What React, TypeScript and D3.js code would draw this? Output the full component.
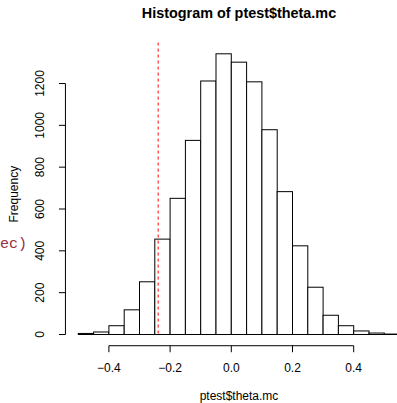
import React from "react";
import * as d3 from "d3";

// Histogram breaks (width 0.05) and counts per bin
const binStarts = [
  -0.5, -0.45, -0.4, -0.35, -0.3, -0.25, -0.2, -0.15, -0.1, -0.05, 0.0,
  0.05, 0.1, 0.15, 0.2, 0.25, 0.3, 0.35, 0.4, 0.45, 0.5,
];
const counts = [
  5, 12, 42, 118, 252, 456, 651, 928, 1212, 1342, 1302, 1208, 979, 683, 424,
  226, 92, 42, 17, 7, 2,
];
const binWidth = 0.05;
const xTicks = [-0.4, -0.2, 0.0, 0.2, 0.4];
const yTicks = [0, 200, 400, 600, 800, 1000, 1200];
const refValue = -0.239;

const W = 397;
const H = 403;
const FONT = "'Liberation Sans', Arial, Helvetica, sans-serif";

export default function App() {
  // plot region in pixels (extends past right edge of the view)
  const x = d3.scaleLinear().domain([0, 0.2]).range([231.3, 292.5]);
  const y = d3.scaleLinear().domain([0, 1200]).range([334.5, 83.5]);
  const yMax = d3.max(counts) as number;
  const plotTop = y(yMax * 1.04);
  const plotBottom = y(-yMax * 0.04);
  const plotLeft = x(-0.5 - 0.05 * 0.04 * 21);
  const fmt = (v: number) => (v === 0 ? "0.0" : d3.format(".1f")(v).replace("-", "\u2212"));

  return (
    <svg width={W} height={H} style={{ position: "absolute", left: 0, top: 0, background: "#fff" }}>
      <rect x={0} y={0} width={W} height={H} fill="#fff" />
      <text x={239} y={18} textAnchor="middle" fontFamily={FONT} fontWeight="bold" fontSize={14.4}>
        Histogram of ptest$theta.mc
      </text>

      {/* bars */}
      {counts.map((c, i) => (
        <rect
          key={i}
          x={x(binStarts[i])}
          y={y(c)}
          width={x(binStarts[i] + binWidth) - x(binStarts[i])}
          height={y(0) - y(c)}
          fill="#fff"
          stroke="#000"
          strokeWidth={1}
        />
      ))}

      {/* reference line */}
      <line
        x1={x(refValue)}
        x2={x(refValue)}
        y1={plotTop}
        y2={y(0)}
        stroke="#ff0000"
        strokeWidth={1}
        strokeDasharray="3,3"
      />

      {/* x axis */}
      <line x1={x(xTicks[0])} x2={x(xTicks[xTicks.length - 1])} y1={plotBottom} y2={plotBottom} stroke="#000" />
      {xTicks.map((t) => (
        <g key={t}>
          <line x1={x(t)} x2={x(t)} y1={plotBottom} y2={plotBottom + 6.5} stroke="#000" />
          <text x={x(t)} y={372} textAnchor="middle" fontFamily={FONT} fontSize={12}>
            {fmt(t)}
          </text>
        </g>
      ))}
      <text x={239} y={400} textAnchor="middle" fontFamily={FONT} fontSize={12}>
        ptest$theta.mc
      </text>

      {/* y axis */}
      <line x1={plotLeft} x2={plotLeft} y1={y(yTicks[0])} y2={y(yTicks[yTicks.length - 1])} stroke="#000" />
      {yTicks.map((t) => (
        <g key={t}>
          <line x1={plotLeft} x2={plotLeft - 6.5} y1={y(t)} y2={y(t)} stroke="#000" />
          <text
            transform={`translate(${plotLeft - 21.5},${y(t)}) rotate(-90)`}
            textAnchor="middle"
            fontFamily={FONT}
            fontSize={12}
          >
            {t}
          </text>
        </g>
      ))}
      <text
        transform={`translate(${18},${(plotTop + plotBottom) / 2}) rotate(-90)`}
        textAnchor="middle"
        fontFamily={FONT}
        fontSize={12}
      >
        Frequency
      </text>

      <text x={0} y={248} fontFamily="'Liberation Mono', 'DejaVu Sans Mono', monospace" fontSize={15} fill="#9a2f45">
        ec)
      </text>
    </svg>
  );
}
